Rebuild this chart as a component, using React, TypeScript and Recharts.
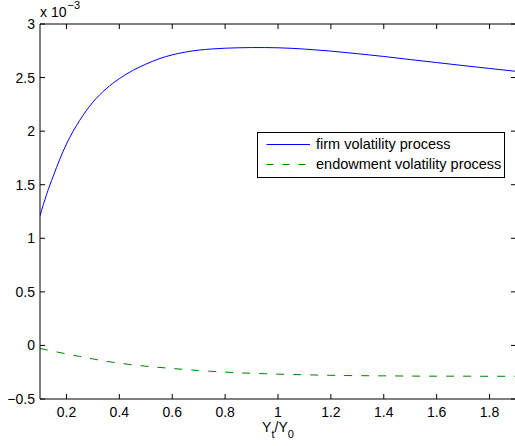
import React from 'react';
import { LineChart, Line, XAxis, YAxis, Legend } from 'recharts';

const xValues = [0.1, 0.125, 0.15, 0.2, 0.25, 0.3, 0.35, 0.4, 0.45, 0.5, 0.55, 0.6, 0.65, 0.7, 0.75, 0.8, 0.85, 0.9, 0.95, 1.0, 1.1, 1.2, 1.3, 1.4, 1.5, 1.6, 1.7, 1.8, 1.9];
const firmValues = [1.21, 1.41, 1.58, 1.88, 2.1, 2.27, 2.395, 2.49, 2.565, 2.625, 2.675, 2.712, 2.738, 2.756, 2.767, 2.774, 2.778, 2.78, 2.78, 2.778, 2.766, 2.747, 2.723, 2.697, 2.668, 2.64, 2.612, 2.585, 2.558];
const endowValues = [-0.028, -0.041, -0.054, -0.079, -0.103, -0.126, -0.148, -0.166, -0.181, -0.194, -0.205, -0.215, -0.225, -0.234, -0.242, -0.249, -0.255, -0.26, -0.264, -0.268, -0.274, -0.279, -0.282, -0.284, -0.286, -0.287, -0.287, -0.288, -0.288];
const xTicks = [0.2, 0.4, 0.6, 0.8, 1, 1.2, 1.4, 1.6, 1.8];
const yTicks = [-0.5, 0, 0.5, 1, 1.5, 2, 2.5, 3];
const seriesNames = ['firm volatility process', 'endowment volatility process'];

const data = xValues.map((x, i) => ({ x, firm: firmValues[i], endow: endowValues[i] }));

const FONT = '"Liberation Sans", Arial, Helvetica, sans-serif';
const TICK_LEN = 5;

const fmt = (v: number) => (v < 0 ? '\u2212' + Math.abs(v) : String(v));

const BottomTick = (props: any) => {
  const { x, y, payload } = props;
  return (
    <g>
      <line x1={x} y1={y} x2={x} y2={y - TICK_LEN} stroke="#000" strokeWidth={1} />
      <text x={x} y={y + 18} textAnchor="middle" fontSize={14} fontFamily={FONT} fill="#000">
        {fmt(payload.value)}
      </text>
    </g>
  );
};

const TopTick = (props: any) => {
  const { x, y } = props;
  return <line x1={x} y1={y} x2={x} y2={y + TICK_LEN} stroke="#000" strokeWidth={1} />;
};

const LeftTick = (props: any) => {
  const { x, y, payload } = props;
  return (
    <g>
      <line x1={x} y1={y} x2={x + TICK_LEN} y2={y} stroke="#000" strokeWidth={1} />
      <text x={x - 5} y={y + 5} textAnchor="end" fontSize={14} fontFamily={FONT} fill="#000">
        {fmt(payload.value)}
      </text>
    </g>
  );
};

const RightTick = (props: any) => {
  const { x, y } = props;
  return <line x1={x} y1={y} x2={x - TICK_LEN} y2={y} stroke="#000" strokeWidth={1} />;
};

const UnitLabel = (props: any) => {
  const vb = props.viewBox || {};
  const x = (vb.x ?? 0) + (vb.width ?? 40);
  const y = vb.y ?? 24;
  return (
    <text x={x} y={y - 7} fontSize={14} fontFamily={FONT} fill="#000">
      x 10
      <tspan dx={1} dy={-8} fontSize={11}>{'\u22123'}</tspan>
    </text>
  );
};

const XLabel = (props: any) => {
  const vb = props.viewBox || {};
  const cx = (vb.x ?? 40) + (vb.width ?? 476) / 2;
  const y = (vb.y ?? 399) + 33;
  return (
    <text x={cx} y={y} textAnchor="middle" fontSize={14} fontFamily={FONT} fill="#000">
      Y
      <tspan dy={6} fontSize={11}>t</tspan>
      <tspan dy={-6}>/Y</tspan>
      <tspan dy={6} fontSize={11}>0</tspan>
    </text>
  );
};

const LegendBox = () => (
  <svg width={248} height={46} style={{ display: 'block' }}>
    <rect x={0.5} y={0.5} width={247} height={45} fill="#fff" stroke="#000" strokeWidth={1} />
    <line x1={9.5} y1={12.5} x2={53} y2={12.5} stroke="#0000ff" strokeWidth={1} />
    <text x={59} y={17} fontSize={14.5} fontFamily={FONT} fill="#000">{seriesNames[0]}</text>
    <line x1={9.5} y1={32.5} x2={53} y2={32.5} stroke="#008000" strokeWidth={1} strokeDasharray="7 9" />
    <text x={59} y={37} fontSize={14.5} fontFamily={FONT} fill="#000">{seriesNames[1]}</text>
  </svg>
);

export default function App() {
  return (
    <div style={{ position: 'fixed', left: 0, top: 0, width: 515, height: 446, overflow: 'hidden', background: '#fff' }}>
      <LineChart
        width={530}
        height={446}
        data={data}
        margin={{ top: 0, left: 0, right: 0, bottom: 0 }}
      >
        <XAxis
          xAxisId="b"
          dataKey="x"
          type="number"
          domain={[0.1, 1.9]}
          ticks={xTicks}
          orientation="bottom"
          height={47}
          tickSize={0}
          tickMargin={0}
          tickLine={false}
          axisLine={{ stroke: '#000', strokeWidth: 1 }}
          tick={<BottomTick />}
          interval={0}
          allowDataOverflow
          label={(p: any) => <XLabel {...p} />}
        />
        <XAxis
          xAxisId="t"
          dataKey="x"
          type="number"
          domain={[0.1, 1.9]}
          ticks={xTicks}
          orientation="top"
          height={24}
          tickSize={0}
          tickMargin={0}
          tickLine={false}
          axisLine={{ stroke: '#000', strokeWidth: 1 }}
          tick={<TopTick />}
          interval={0}
          allowDataOverflow
        />
        <YAxis
          yAxisId="l"
          type="number"
          domain={[-0.5, 3]}
          ticks={yTicks}
          orientation="left"
          width={40}
          tickSize={0}
          tickMargin={0}
          tickLine={false}
          axisLine={{ stroke: '#000', strokeWidth: 1 }}
          tick={<LeftTick />}
          interval={0}
          allowDataOverflow
          label={(p: any) => <UnitLabel {...p} />}
        />
        <YAxis
          yAxisId="r"
          type="number"
          domain={[-0.5, 3]}
          ticks={yTicks}
          orientation="right"
          width={14}
          tickSize={0}
          tickMargin={0}
          tickLine={false}
          axisLine={{ stroke: '#000', strokeWidth: 1 }}
          tick={<RightTick />}
          interval={0}
          allowDataOverflow
        />
        <Line
          xAxisId="b"
          yAxisId="l"
          type="monotone"
          dataKey="firm"
          stroke="#0000ff"
          strokeWidth={1}
          dot={false}
          activeDot={false}
          isAnimationActive={false}
        />
        <Line
          xAxisId="b"
          yAxisId="l"
          type="monotone"
          dataKey="endow"
          stroke="#008000"
          strokeWidth={1}
          strokeDasharray="8 9"
          dot={false}
          activeDot={false}
          isAnimationActive={false}
        />
        <Legend
          layout="vertical"
          align="center"
          verticalAlign="middle"
          content={() => <LegendBox />}
          wrapperStyle={{ position: 'absolute', left: 257, top: 132, width: 248, height: 46 }}
        />
      </LineChart>
    </div>
  );
}
